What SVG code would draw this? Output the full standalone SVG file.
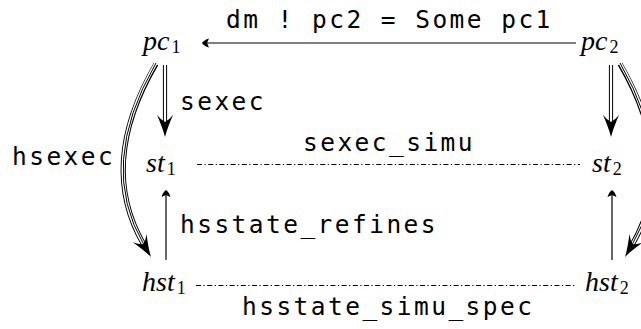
<svg xmlns="http://www.w3.org/2000/svg" width="641" height="329" viewBox="0 0 641 329">
<style>
.m{font-family:"Liberation Serif",serif;font-style:italic;font-size:28px;fill:#000}
.sub{font-style:normal;font-size:18px}
.t{font-family:"DejaVu Sans Mono",monospace;font-size:24.5px;letter-spacing:2.45px;fill:#000}
.ln{stroke:#000;stroke-width:1.2;fill:none}
.dd{stroke:#000;stroke-width:1;fill:none;stroke-dasharray:5 2.5 1.2 2.5}
.d1{stroke:#000;stroke-width:4.2;fill:none}
.d2{stroke:#fff;stroke-width:2.2;fill:none}
.t1{stroke:#000;stroke-width:5.2;fill:none}
.t2{stroke:#fff;stroke-width:3.3;fill:none}
.t3{stroke:#000;stroke-width:1;fill:none}
</style>
<defs>
<path id="big" d="M0,0 C-2,-8 -5,-15 -8,-22 Q-4,-17 0,-15 Q4,-17 8,-22 C5,-15 2,-8 0,0 Z" fill="#000"/>
<path id="small" d="M0,0 Q-3,-2 -4.5,-7 L0,-5 L4.5,-7 Q3,-2 0,0 Z" fill="#000"/>
</defs>
<g id="pc1"><text class="m" x="143" y="50">pc<tspan class="sub" dx="2" dy="3">1</tspan></text></g>
<g id="pc2"><text class="m" x="581" y="50">pc<tspan class="sub" dx="2" dy="3">2</tspan></text></g>
<g id="st1"><text class="m" x="146" y="172">st<tspan class="sub" dx="2" dy="3">1</tspan></text></g>
<g id="st2"><text class="m" x="592" y="172">st<tspan class="sub" dx="2" dy="3">2</tspan></text></g>
<g id="hst1"><text class="m" x="142" y="291">hst<tspan class="sub" dx="2" dy="3">1</tspan></text></g>
<g id="hst2"><text class="m" x="585" y="291">hst<tspan class="sub" dx="2" dy="3">2</tspan></text></g>
<g id="connectors">
<line class="ln" x1="576" y1="43" x2="204" y2="43"/>
<use href="#small" transform="translate(202,43) rotate(90)"/>
<line class="d1" x1="165" y1="65" x2="165" y2="123"/>
<line class="d2" x1="165" y1="64" x2="165" y2="124"/>
<use href="#big" transform="translate(165,137)"/>
<line class="d1" x1="611" y1="65" x2="611" y2="123"/>
<line class="d2" x1="611" y1="64" x2="611" y2="124"/>
<use href="#big" transform="translate(611,137)"/>
<line class="ln" x1="166" y1="260" x2="166" y2="193"/>
<use href="#small" transform="translate(166,190) rotate(180)"/>
<line class="ln" x1="612" y1="260" x2="612" y2="193"/>
<use href="#small" transform="translate(612,190) rotate(180)"/>
<line class="dd" x1="197" y1="164.5" x2="580" y2="164.5"/>
<line class="dd" x1="196" y1="285.5" x2="576" y2="285.5"/>
<path class="t1" d="M156,64 Q97,165 144,245"/>
<path class="t2" d="M156,63 Q97,165 144,245"/>
<path class="t3" d="M156,63 Q97,165 144,245"/>
<use href="#big" transform="translate(151,257) rotate(-30.9)"/>
<path class="t1" d="M620,64 Q679,165 632,245"/>
<path class="t2" d="M620,63 Q679,165 632,245"/>
<path class="t3" d="M620,63 Q679,165 632,245"/>
<use href="#big" transform="translate(625,257) rotate(30.9)"/>
</g>
<g id="labels">
<text class="t" x="226" y="28">dm ! pc2 = Some pc1</text>
<text class="t" x="180" y="110">sexec</text>
<text class="t" x="12" y="165">hsexec</text>
<text class="t" x="303" y="151">sexec_simu</text>
<text class="t" x="180" y="233">hsstate_refines</text>
<text class="t" x="242" y="315">hsstate_simu_spec</text>
</g>
</svg>
